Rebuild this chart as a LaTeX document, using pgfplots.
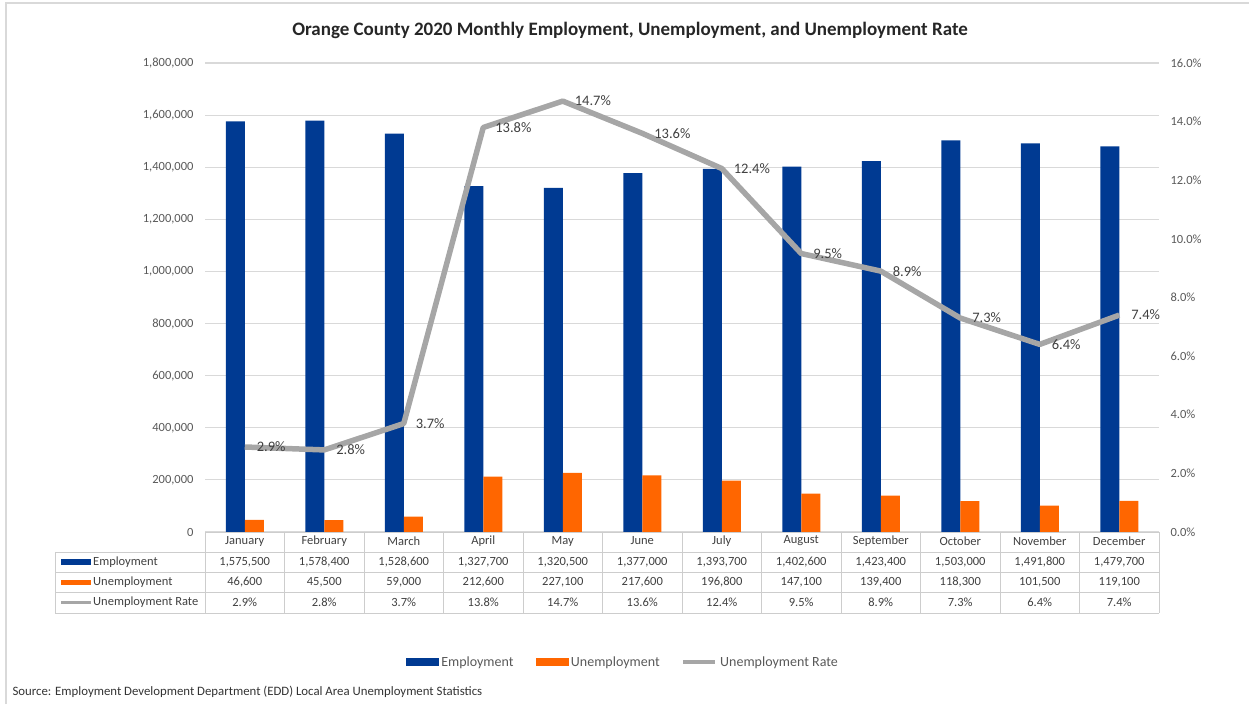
\documentclass[border=0pt]{standalone}
\usepackage{fontspec}
\setmainfont{Carlito}
\usepackage{pgfplots}
\usepackage{pgfplotstable}
\pgfplotsset{compat=1.18}

\definecolor{empblue}{RGB}{0,58,146}
\definecolor{unorange}{RGB}{255,102,0}
\definecolor{rategray}{RGB}{166,166,166}
\definecolor{txtgray}{RGB}{89,89,89}
\definecolor{tbltext}{RGB}{64,64,64}
\definecolor{gridgray}{RGB}{217,217,217}
\definecolor{tblline}{RGB}{205,205,205}

\newcommand{\lbl}{\fontsize{12.5}{15}\selectfont}
\newcommand{\lblbig}{\fontsize{14.5}{17}\selectfont}
\newcommand{\lbllgd}{\fontsize{14}{17}\selectfont}

% Orange County 2020, monthly
\pgfplotstableread{
x month     emp     unemp  rate
0 January   1575500 46600  2.9
1 February  1578400 45500  2.8
2 March     1528600 59000  3.7
3 April     1327700 212600 13.8
4 May       1320500 227100 14.7
5 June      1377000 217600 13.6
6 July      1393700 196800 12.4
7 August    1402600 147100 9.5
8 September 1423400 139400 8.9
9 October   1503000 118300 7.3
10 November 1491800 101500 6.4
11 December 1479700 119100 7.4
}\octable

\begin{document}
\begin{tikzpicture}
\useasboundingbox (0pt,0pt) rectangle (1249pt,704pt);
\draw[gridgray, line width=1.5pt] (6pt,0pt) -- (6pt,701pt) -- (1249pt,701pt);

\node[font=\fontsize{19}{22}\selectfont\bfseries, text=black!85] at (630pt,674pt)
  {Orange County 2020 Monthly Employment, Unemployment, and Unemployment Rate};

% bars, left axis
\begin{axis}[
  at={(205pt,172pt)}, anchor=south west,
  scale only axis, width=954pt, height=469pt,
  xmin=-0.5, xmax=11.5, ymin=0, ymax=1800000,
  xtick=\empty,
  ytick={0,200000,400000,600000,800000,1000000,1200000,1400000,1600000,1800000},
  scaled y ticks=false,
  ymajorgrids, grid style={gridgray, line width=1.2pt},
  axis line style={draw=none}, major tick length=0pt,
  /pgf/number format/fixed,
  /pgf/number format/assume math mode=true,
  /pgf/number format/1000 sep={,},
  yticklabel style={font=\lbl, text=txtgray, xshift=-8pt},
  ybar=0pt, bar width=19pt,
  clip=false,
]
\addplot[draw=none, fill=empblue] table[x=x, y=emp]{\octable};
\addplot[draw=none, fill=unorange] table[x=x, y=unemp]{\octable};
\end{axis}

% rate line, right axis
\begin{axis}[
  at={(205pt,172pt)}, anchor=south west,
  scale only axis, width=954pt, height=469pt,
  xmin=-0.5, xmax=11.5, ymin=0, ymax=16,
  axis x line=none, axis y line*=right,
  axis line style={draw=none}, major tick length=0pt,
  ytick={0,2,4,6,8,10,12,14,16},
  /pgf/number format/fixed,
  /pgf/number format/assume math mode=true,
  yticklabel={\pgfmathprintnumber[fixed,fixed zerofill,precision=1]{\tick}\%},
  yticklabel style={font=\lbl, text=txtgray, xshift=8pt},
  clip=false,
  legend columns=3,
  legend cell align=left,
  legend style={at={(0.438,-0.277)}, anchor=center, draw=none, fill=none,
    font=\lbllgd, text=txtgray,
    /tikz/every odd column/.append style={column sep=1pt},
    /tikz/every even column/.append style={column sep=20pt}},
]
\addlegendimage{legend image code/.code={\fill[empblue] (0pt,-3.5pt) rectangle (32pt,3.5pt);}}
\addlegendentry{Employment}
\addlegendimage{legend image code/.code={\fill[unorange] (0pt,-3.5pt) rectangle (32pt,3.5pt);}}
\addlegendentry{Unemployment}
\addplot[rategray, line width=5.5pt, line join=round, mark=none,
  point meta=explicit,
  nodes near coords={\pgfmathprintnumber[fixed,fixed zerofill,precision=1]{\pgfplotspointmeta}\%},
  every node near coord/.append style={anchor=west, xshift=6pt, font=\lblbig, text=tbltext},
  legend image code/.code={\draw[rategray, line width=3.5pt] (0pt,0pt) -- (32pt,0pt);}]
  table[x=x, y=rate, meta=rate]{\octable};
\addlegendentry{Unemployment Rate}
\end{axis}

% data table below the plot
\draw[tblline] (205pt,172pt) -- (1159pt,172pt);
\foreach \yy in {152,132,112,91} \draw[tblline] (55pt,\yy pt) -- (1159pt,\yy pt);
\foreach \k in {0,...,12} {
  \pgfmathsetmacro{\vx}{205+\k*79.5}
  \draw[tblline] (\vx pt,172pt) -- (\vx pt,91pt);
}
\draw[tblline] (55pt,152pt) -- (55pt,91pt);

\fill[empblue] (61pt,139.5pt) rectangle (91pt,144.5pt);
\node[anchor=west, font=\lbl, text=tbltext, inner sep=0pt] at (93pt,142pt) {Employment};
\fill[unorange] (61pt,119.5pt) rectangle (91pt,124.5pt);
\node[anchor=west, font=\lbl, text=tbltext, inner sep=0pt] at (93pt,122pt) {Unemployment};
\fill[rategray] (61pt,100.2pt) rectangle (91pt,102.8pt);
\node[anchor=west, font=\lbl, text=tbltext, inner sep=0pt] at (93pt,101.5pt) {Unemployment Rate};

\foreach \i in {0,...,11} {
  \pgfmathsetmacro{\cx}{205+(\i+0.5)*79.5}
  \pgfplotstablegetelem{\i}{month}\of\octable
  \node[font=\lbl, text=tbltext] at (\cx pt,163pt) {\pgfplotsretval};
  \pgfplotstablegetelem{\i}{emp}\of\octable
  \node[font=\lbl, text=tbltext] at (\cx pt,142pt)
    {\pgfmathprintnumber[fixed,1000 sep={,},assume math mode=true]{\pgfplotsretval}};
  \pgfplotstablegetelem{\i}{unemp}\of\octable
  \node[font=\lbl, text=tbltext] at (\cx pt,122pt)
    {\pgfmathprintnumber[fixed,1000 sep={,},assume math mode=true]{\pgfplotsretval}};
  \pgfplotstablegetelem{\i}{rate}\of\octable
  \node[font=\lbl, text=tbltext] at (\cx pt,101.5pt)
    {\pgfmathprintnumber[fixed,fixed zerofill,precision=1,assume math mode=true]{\pgfplotsretval}\%};
}

\node[anchor=west, font=\fontsize{12.8}{15}\selectfont, text=black!80] at (9pt,12pt)
  {Source: Employment Development Department (EDD) Local Area Unemployment Statistics};
\end{tikzpicture}
\end{document}
